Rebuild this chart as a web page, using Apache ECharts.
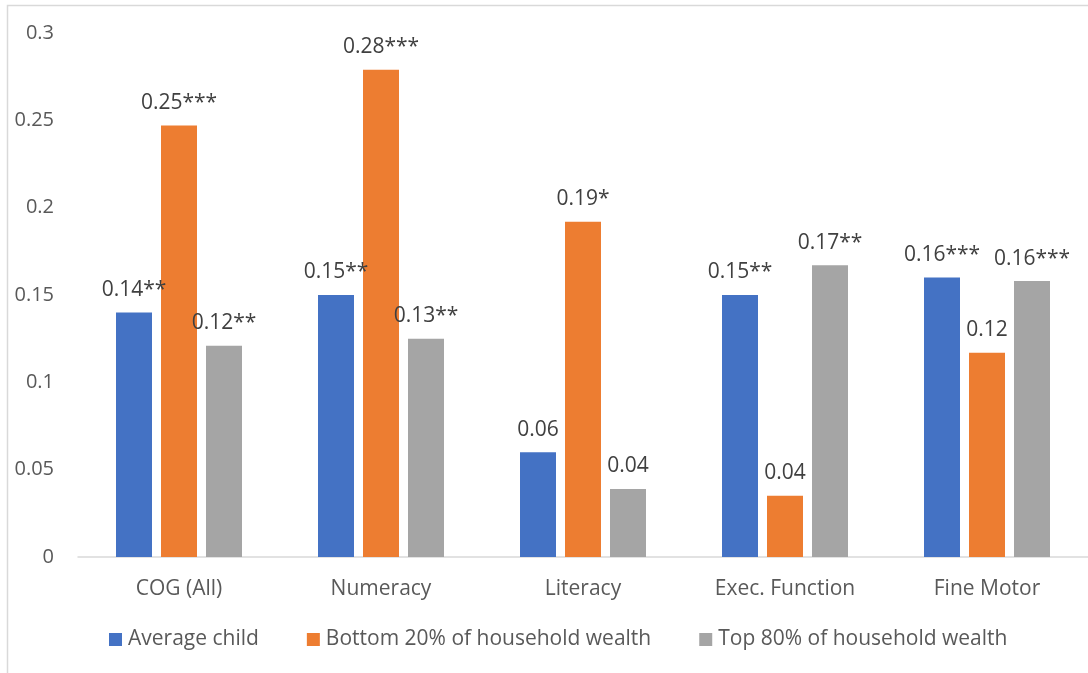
<!DOCTYPE html>
<html>
<head>
<meta charset="utf-8">
<script src="https://cdn.jsdelivr.net/npm/echarts@6/dist/echarts.min.js"></script>
<style>
html,body{margin:0;padding:0;background:#fff;}
#chart{width:1088px;height:673px;}
</style>
</head>
<body>
<div id="chart"></div>
<script>
const categories = ['COG (All)', 'Numeracy', 'Literacy', 'Exec. Function', 'Fine Motor'];
const seriesNames = ['Average child', 'Bottom 20% of household wealth', 'Top 80% of household wealth'];
const averageChild = [0.14, 0.15, 0.06, 0.15, 0.16];
const bottom20 = [0.247, 0.279, 0.192, 0.035, 0.117];
const top80 = [0.121, 0.125, 0.039, 0.167, 0.158];
const averageLabels = ['0.14**', '0.15**', '0.06', '0.15**', '0.16***'];
const bottomLabels = ['0.25***', '0.28***', '0.19*', '0.04', '0.12'];
const topLabels = ['0.12**', '0.13**', '0.04', '0.17**', '0.16***'];
const yTicks = [0, 0.05, 0.1, 0.15, 0.2, 0.25, 0.3];
const colors = ['#4472C4', '#ED7D31', '#A5A5A5'];

const FONT = 'Open Sans';
const chart = echarts.init(document.getElementById('chart'), null, {renderer: 'canvas'});

function mkSeries(name, values, labels, color) {
  return {
    name: name,
    type: 'bar',
    data: values,
    barWidth: 36,
    barGap: '25%',
    itemStyle: {color: color},
    label: {
      show: true,
      position: 'top',
      distance: 12,
      color: '#404040',
      fontSize: 21,
      fontFamily: FONT,
      formatter: p => labels[p.dataIndex]
    }
  };
}

chart.setOption({
  backgroundColor: '#fff',
  animation: false,
  graphic: [{
    type: 'rect',
    shape: {x: 7.5, y: 5.5, width: 1200, height: 800},
    style: {fill: 'none', stroke: '#d9d9d9', lineWidth: 1.5},
    silent: true
  }],
  grid: {left: 78, right: -12, top: 33, bottom: 116, containLabel: false},
  legend: {
    data: seriesNames,
    bottom: 18,
    left: 104,
    itemWidth: 13,
    itemHeight: 13,
    itemGap: 48,
    icon: 'rect',
    textStyle: {color: '#595959', fontSize: 21, fontFamily: FONT, padding: [0,0,0,1]}
  },
  xAxis: {
    type: 'category',
    data: categories,
    axisLine: {lineStyle: {color: '#d9d9d9', width: 1.5}},
    axisTick: {show: false},
    axisLabel: {color: '#595959', fontSize: 21, fontFamily: FONT, margin: 22}
  },
  yAxis: {
    type: 'value',
    min: yTicks[0],
    max: yTicks[yTicks.length - 1],
    interval: 0.05,
    axisLine: {show: false},
    axisTick: {show: false},
    splitLine: {show: false},
    axisLabel: {color: '#595959', fontSize: 20, fontFamily: FONT, margin: 24,
      formatter: v => String(parseFloat(v.toFixed(2)))}
  },
  series: [
    mkSeries(seriesNames[0], averageChild, averageLabels, colors[0]),
    mkSeries(seriesNames[1], bottom20, bottomLabels, colors[1]),
    mkSeries(seriesNames[2], top80, topLabels, colors[2])
  ]
});
</script>
</body>
</html>
